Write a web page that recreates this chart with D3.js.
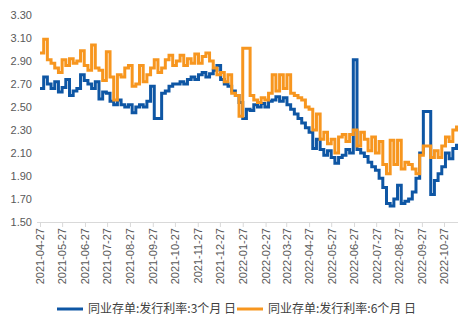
<!DOCTYPE html>
<html><head><meta charset="utf-8">
<script src="https://cdn.jsdelivr.net/npm/d3@7"></script>
<style>
html,body{margin:0;padding:0;background:#fff;}
svg{display:block;}
</style></head>
<body>
<svg id="chart" width="472" height="329"></svg>
<script>
const dates = [
"2021-04-27","2021-05-02","2021-05-07","2021-05-12","2021-05-17","2021-05-22","2021-05-27","2021-06-01","2021-06-06","2021-06-11",
"2021-06-16","2021-06-21","2021-06-26","2021-07-01","2021-07-06","2021-07-11","2021-07-16","2021-07-21","2021-07-26","2021-07-31",
"2021-08-05","2021-08-10","2021-08-15","2021-08-20","2021-08-25","2021-08-30","2021-09-04","2021-09-09","2021-09-14","2021-09-19",
"2021-09-24","2021-09-29","2021-10-04","2021-10-09","2021-10-14","2021-10-19","2021-10-24","2021-10-29","2021-11-03","2021-11-08",
"2021-11-13","2021-11-18","2021-11-23","2021-11-28","2021-12-03","2021-12-08","2021-12-13","2021-12-18","2021-12-23","2021-12-28",
"2022-01-02","2022-01-07","2022-01-12","2022-01-17","2022-01-22","2022-01-27","2022-02-01","2022-02-06","2022-02-11","2022-02-16",
"2022-02-21","2022-02-26","2022-03-03","2022-03-08","2022-03-13","2022-03-18","2022-03-23","2022-03-28","2022-04-02","2022-04-07",
"2022-04-12","2022-04-17","2022-04-22","2022-04-27","2022-05-02","2022-05-07","2022-05-12","2022-05-17","2022-05-22","2022-05-27",
"2022-06-01","2022-06-06","2022-06-11","2022-06-16","2022-06-21","2022-06-26","2022-07-01","2022-07-06","2022-07-11","2022-07-16",
"2022-07-21","2022-07-26","2022-07-31","2022-08-05","2022-08-10","2022-08-15","2022-08-20","2022-08-25","2022-08-30","2022-09-04",
"2022-09-09","2022-09-14","2022-09-19","2022-09-24","2022-09-29","2022-10-04","2022-10-09","2022-10-14","2022-10-19","2022-10-24",
"2022-10-29","2022-11-03","2022-11-08","2022-11-13"
];
const rate3m = [
2.66,2.76,2.70,2.66,2.72,2.63,2.67,2.74,2.60,2.64,
2.66,2.78,2.73,2.70,2.66,2.72,2.57,2.63,2.62,2.55,
2.52,2.56,2.52,2.50,2.52,2.45,2.50,2.52,2.50,2.55,
2.68,2.40,2.40,2.62,2.64,2.68,2.70,2.70,2.72,2.70,
2.74,2.76,2.74,2.78,2.80,2.76,2.79,2.82,2.86,2.74,
2.70,2.68,2.64,2.60,2.54,2.40,2.48,2.47,2.52,2.50,
2.53,2.50,2.55,2.56,2.59,2.55,2.58,2.52,2.48,2.44,
2.40,2.36,2.32,2.28,2.14,2.22,2.13,2.08,2.12,2.06,
2.01,2.06,2.08,2.13,2.10,2.91,2.13,2.10,2.07,2.02,
1.98,1.95,1.88,1.80,1.66,1.64,1.70,1.82,1.66,1.68,
1.70,1.76,1.88,2.10,2.46,2.46,1.74,1.86,1.92,1.98,
2.10,2.05,2.14,2.18
];
const rate6m = [
2.97,3.09,2.91,2.88,2.84,2.80,2.91,2.86,2.92,2.88,
2.90,2.99,2.86,2.82,3.04,2.84,2.82,2.73,2.98,2.76,
2.56,2.78,2.76,2.84,2.86,2.68,2.70,2.86,2.72,2.78,
2.84,2.91,2.80,2.84,2.91,2.95,2.86,2.90,2.95,2.86,
2.92,2.88,2.96,2.88,2.94,2.97,2.90,2.84,2.78,2.80,
2.72,2.78,2.62,2.60,2.42,3.01,3.01,2.60,2.56,2.54,
2.58,2.56,2.62,2.78,2.64,2.78,2.66,2.78,2.62,2.60,
2.58,2.56,2.50,2.48,2.30,2.44,2.22,2.28,2.18,2.22,
2.10,2.24,2.26,2.20,2.26,2.30,2.16,2.28,2.22,2.12,
2.24,2.10,2.20,2.00,1.92,2.21,2.00,2.21,1.96,2.02,
2.00,1.96,1.92,2.08,2.16,2.16,2.06,2.12,2.06,2.16,
2.24,2.20,2.30,2.34
];
const yTicks = [1.50,1.70,1.90,2.10,2.30,2.50,2.70,2.90,3.10,3.30];
const xTickLabels = ["2021-04-27","2021-05-27","2021-06-27","2021-07-27","2021-08-27","2021-09-27","2021-10-27","2021-11-27","2021-12-27","2022-01-27","2022-02-27","2022-03-27","2022-04-27","2022-05-27","2022-06-27","2022-07-27","2022-08-27","2022-09-27","2022-10-27"];
const seriesNames = ["同业存单:发行利率:3个月 日","同业存单:发行利率:6个月 日"];
const colors = ["#0E56A4","#F7961F"];

const parse = d3.timeParse("%Y-%m-%d");
const svg = d3.select("#chart");
const x = d3.scaleTime().domain([parse("2021-04-27"), parse("2022-11-15")]).range([40, 458]);
const y = d3.scaleLinear().domain([1.5, 3.3]).range([222, 15]);

// y axis labels
const yAxis = d3.axisLeft(y).tickValues(yTicks).tickFormat(d3.format(".2f")).tickSize(0).tickPadding(0);
const gy = svg.append("g").attr("transform","translate(32,0)").call(yAxis);
gy.select(".domain").remove();
gy.selectAll("text").attr("fill","#595959").style("font-family","'Liberation Sans',Arial,sans-serif").style("font-size","11px");

// x axis
const xAxis = d3.axisBottom(x).tickValues(xTickLabels.map(parse)).tickFormat(d3.timeFormat("%Y-%m-%d")).tickSizeInner(5).tickSizeOuter(0);
const gx = svg.append("g").attr("transform","translate(0,222)").call(xAxis);
gx.select(".domain").attr("stroke","#d9d9d9").attr("d","M37,0.5H458");
gx.selectAll(".tick line").attr("stroke","#d9d9d9");
gx.selectAll("text")
  .attr("fill","#595959")
  .style("font-family","'Liberation Sans',Arial,sans-serif").style("font-size","11px")
  .attr("transform","rotate(-90)")
  .attr("text-anchor","end")
  .attr("x",-6).attr("y",0).attr("dy","0.35em");

const series = [rate3m, rate6m];
const line = d3.line().x(d=>x(d.date)).y(d=>y(d.v)).curve(d3.curveStepAfter);
series.forEach((vals,i)=>{
  const data = dates.map((d,j)=>({date:parse(d), v:vals[j]}));
  svg.append("path").datum(data)
    .attr("fill","none").attr("stroke",colors[i]).attr("stroke-width",3)
    .attr("stroke-linejoin","miter").attr("d",line);
});

// legend
const legend = svg.append("g").attr("transform","translate(0,309)");
const lx = [57, 237];
seriesNames.forEach((n,i)=>{
  legend.append("line").attr("x1",lx[i]).attr("x2",lx[i]+26).attr("y1",0).attr("y2",0)
    .attr("stroke",colors[i]).attr("stroke-width",3);
  legend.append("text").attr("x",lx[i]+31).attr("y",0).attr("dy","0.35em")
    .attr("fill","#404040").style("font-family","'Noto Sans CJK SC',sans-serif").style("font-size","12px")
    .text(n);
});
</script>
</body></html>
